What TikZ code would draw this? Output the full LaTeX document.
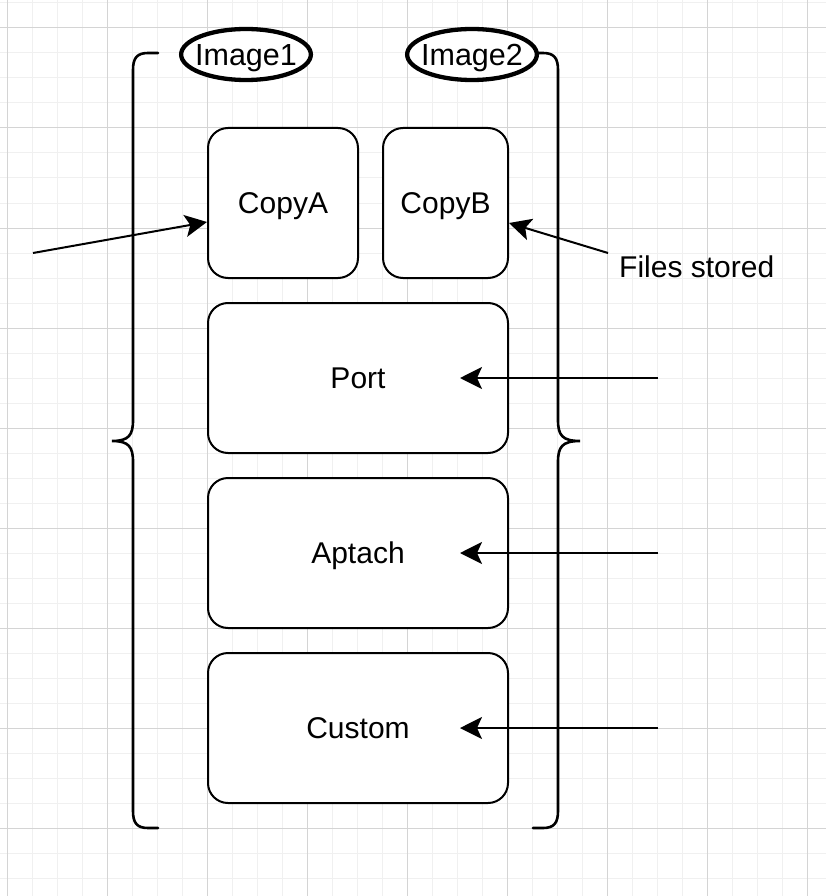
\documentclass[tikz,border=0pt]{standalone}
\usepackage{fontspec}
\setmainfont{Liberation Sans}
\usetikzlibrary{shapes.geometric,arrows.meta,calc}
\definecolor{gminor}{HTML}{F0F0F0}
\definecolor{gmajor}{HTML}{D4D4D4}
\tikzset{
  boxnode/.style={draw=black, line width=2pt, rounded corners=20pt, fill=white,
    inner sep=0pt, text height=21.5pt, text depth=0pt, font=\fontsize{30}{36}\selectfont},
  tagnode/.style={draw=black, line width=4.3pt, ellipse, fill=white,
    inner xsep=-5pt, inner ysep=0pt, text height=22pt, text depth=0pt,
    minimum width=124pt, minimum height=51pt, font=\fontsize{30.5}{36}\selectfont},
  lbl/.style={inner sep=0pt, text height=21.5pt, text depth=0pt, font=\fontsize{30}{36}\selectfont},
  arr/.style={line width=2pt, -{Stealth[length=22pt,width=22pt,inset=5pt]}},
  bracepath/.style={line width=2.6pt, line cap=round},
}
\begin{document}
\begin{tikzpicture}[x=1pt,y=-1pt]
\useasboundingbox (0,0) rectangle (826,896);
\fill[white] (0,0) rectangle (826,896);
% grid
\foreach \i in {0,...,33} {
  \draw[gminor, line width=1pt] ({7+25*\i},0) -- ({7+25*\i},896);
}
\foreach \j in {0,...,36} {
  \draw[gminor, line width=1pt] (0,{3+25*\j}) -- (826,{3+25*\j});
}
\foreach \i in {0,...,8} {
  \draw[gmajor, line width=1pt] ({7+100*\i},0) -- ({7+100*\i},896);
}
\foreach \j in {0,...,8} {
  \draw[gmajor, line width=1pt] (0,{28+100*\j}) -- (826,{28+100*\j});
}
% braces
\draw[bracepath] (158,53) -- (148,53) .. controls (137,53) and (133,58) .. (133,70)
  -- (133,420) .. controls (133,435) and (129,441) .. (112,441)
  .. controls (129,441) and (133,447) .. (133,462)
  -- (133,811) .. controls (133,823) and (137,828) .. (148,828) -- (158,828);
\draw[bracepath] (533,53) -- (543,53) .. controls (554,53) and (558,58) .. (558,70)
  -- (558,420) .. controls (558,435) and (562,441) .. (580,441)
  .. controls (562,441) and (558,447) .. (558,462)
  -- (558,811) .. controls (558,823) and (554,828) .. (543,828) -- (533,828);
% tags
\node[tagnode] (img1) at (246,54.5) {Image1};
\node[tagnode] (img2) at (472,54.5) {Image2};
% boxes
\node[boxnode, minimum width=150pt, minimum height=150pt] (copyA) at (283,203) {CopyA};
\node[boxnode, minimum width=125pt, minimum height=150pt] (copyB) at (445.5,203) {CopyB};
\node[boxnode, minimum width=300pt, minimum height=150pt] (port) at (358,378) {Port};
\node[boxnode, minimum width=300pt, minimum height=150pt] (aptach) at (358,553) {Aptach};
\node[boxnode, minimum width=300pt, minimum height=150pt] (custom) at (358,728) {Custom};
% label
\node[lbl, anchor=west] (files) at (619,267) {Files stored};
% arrows
\coordinate (s1) at (33,253);
\coordinate (s2) at (608,253);
\coordinate (sp) at (658,378);
\coordinate (sa) at (658,553);
\coordinate (sc) at (658,728);
\coordinate (tp) at (460,378);
\coordinate (ta) at (460,553);
\coordinate (tc) at (460,728);
\draw[arr] (s1) -- ($(copyA.west)+(0,19)$);
\draw[arr] (s2) -- ($(copyB.east)+(0,20)$);
\draw[arr] (sp) -- (tp);
\draw[arr] (sa) -- (ta);
\draw[arr] (sc) -- (tc);
\end{tikzpicture}
\end{document}
